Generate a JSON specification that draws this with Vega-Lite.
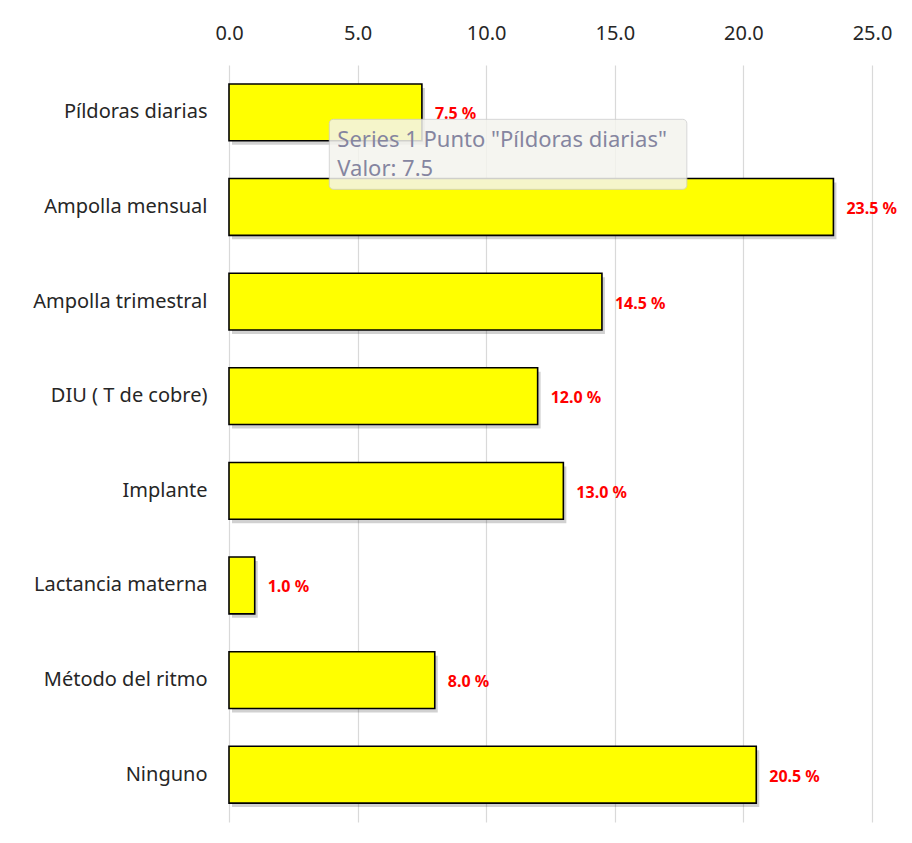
{
  "$schema": "https://vega.github.io/schema/vega-lite/v6.json",
  "width": 643,
  "height": 757,
  "autosize": {"type": "none"},
  "padding": {"left": 229, "top": 65, "right": 40, "bottom": 21},
  "background": "white",
  "config": {"view": {"stroke": null}, "font": "Noto Sans"},
  "datasets": {
    "bars": [
      {"metodo": "Píldoras diarias", "valor": 7.5, "etiqueta": "7.5 %"},
      {"metodo": "Ampolla mensual", "valor": 23.5, "etiqueta": "23.5 %"},
      {"metodo": "Ampolla trimestral", "valor": 14.5, "etiqueta": "14.5 %"},
      {"metodo": "DIU ( T de cobre)", "valor": 12.0, "etiqueta": "12.0 %"},
      {"metodo": "Implante", "valor": 13.0, "etiqueta": "13.0 %"},
      {"metodo": "Lactancia materna", "valor": 1.0, "etiqueta": "1.0 %"},
      {"metodo": "Método del ritmo", "valor": 8.0, "etiqueta": "8.0 %"},
      {"metodo": "Ninguno", "valor": 20.5, "etiqueta": "20.5 %"}
    ],
    "tip": [
      {"metodo": "Píldoras diarias", "x0": 3.9, "x1": 17.8, "linea1": "Series 1 Punto \"Píldoras diarias\"", "linea2": "Valor: 7.5"}
    ]
  },
  "layer": [
    {
      "data": {"name": "bars"},
      "mark": {"type": "bar", "fill": "#000000", "opacity": 0.18, "xOffset": 3, "yOffset": 4},
      "encoding": {
        "y": {"field": "metodo", "type": "nominal", "sort": null,
              "scale": {"paddingInner": 0.4, "paddingOuter": 0.2},
              "axis": {"title": null, "ticks": false, "domain": false, "labelFontSize": 20, "labelColor": "#262626", "labelPadding": 22}},
        "x": {"field": "valor", "type": "quantitative",
              "scale": {"domain": [0, 25], "nice": false},
              "axis": {"orient": "top", "title": null, "values": [0, 5, 10, 15, 20, 25], "format": ".1f", "labelFlush": false,
                       "ticks": false, "domain": false, "labelFontSize": 20, "labelColor": "#262626", "labelPadding": 22,
                       "gridColor": "#d9d9d9", "gridWidth": 1.2}}
      }
    },
    {
      "data": {"name": "bars"},
      "mark": {"type": "bar", "fill": "#ffff00", "stroke": "#000000", "strokeWidth": 1.6},
      "encoding": {
        "y": {"field": "metodo", "type": "nominal", "sort": null},
        "x": {"field": "valor", "type": "quantitative"}
      }
    },
    {
      "data": {"name": "bars"},
      "mark": {"type": "text", "align": "left", "baseline": "middle", "dx": 13, "dy": 2, "fill": "#ff0000", "fontWeight": "bold", "fontSize": 16},
      "encoding": {
        "y": {"field": "metodo", "type": "nominal", "sort": null},
        "x": {"field": "valor", "type": "quantitative"},
        "text": {"field": "etiqueta"}
      }
    },
    {
      "data": {"name": "tip"},
      "mark": {"type": "bar", "fill": "#f4f4ee", "opacity": 0.85, "stroke": "#d0d0d0", "strokeWidth": 1, "cornerRadius": 4, "height": 70, "yOffset": 42},
      "encoding": {
        "y": {"field": "metodo", "type": "nominal", "sort": null},
        "x": {"field": "x0", "type": "quantitative"},
        "x2": {"field": "x1"}
      }
    },
    {
      "data": {"name": "tip"},
      "mark": {"type": "text", "align": "left", "baseline": "middle", "dx": 8, "yOffset": 28, "fill": "#8585a0", "fontSize": 22},
      "encoding": {
        "y": {"field": "metodo", "type": "nominal", "sort": null},
        "x": {"field": "x0", "type": "quantitative"},
        "text": {"field": "linea1"}
      }
    },
    {
      "data": {"name": "tip"},
      "mark": {"type": "text", "align": "left", "baseline": "middle", "dx": 8, "yOffset": 57, "fill": "#8585a0", "fontSize": 22},
      "encoding": {
        "y": {"field": "metodo", "type": "nominal", "sort": null},
        "x": {"field": "x0", "type": "quantitative"},
        "text": {"field": "linea2"}
      }
    }
  ]
}
